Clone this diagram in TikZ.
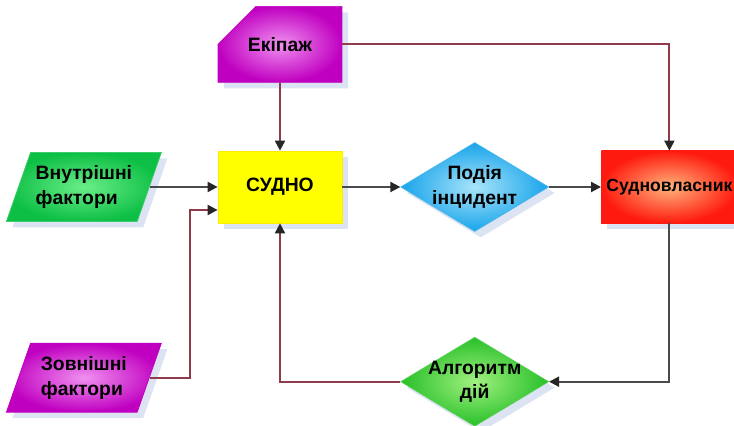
\documentclass[tikz,border=0pt]{standalone}
\usepackage{fontspec}
\setmainfont{Liberation Sans}
\usetikzlibrary{arrows.meta, positioning, shapes.geometric, shapes.misc, shadows}
\definecolor{lineRed}{HTML}{8E3B4A}
\definecolor{lineGray}{HTML}{4A4A4A}
\definecolor{shipYellow}{HTML}{FFFF00}
\definecolor{crewMag}{HTML}{C000C0}
\definecolor{crewLight}{HTML}{F090F0}
\definecolor{factGreen}{HTML}{0DBF45}
\definecolor{factLight}{HTML}{6AEE88}
\definecolor{algGreen}{HTML}{28C028}
\definecolor{algLight}{HTML}{A0F080}
\definecolor{evBlue}{HTML}{18A4EA}
\definecolor{evLight}{HTML}{A8E4FA}
\definecolor{ownRed}{HTML}{FF1A0F}
\definecolor{ownLight}{HTML}{FFB47A}
\definecolor{shadowBlue}{HTML}{DCE3F2}
\tikzset{
  arrowM/.style={-{Triangle[length=2mm, width=2mm, color=black!85]}, lineRed, line width=1.1pt},
  arrowG/.style={-{Triangle[length=2mm, width=2mm, color=black!85]}, lineGray, line width=1.1pt},
  base/.style={font=\bfseries\fontsize{11}{14}\selectfont, align=center, text=black,
               drop shadow={shadow xshift=0.12cm, shadow yshift=-0.12cm, fill=shadowBlue, opacity=1}},
  boxYellow/.style={base, rectangle, fill=shipYellow, draw=shipYellow!85!orange,
                    minimum width=2.48cm, minimum height=1.44cm},
  boxRed/.style={base, rectangle, inner color=ownLight, outer color=ownRed, draw=ownRed,
                 font=\bfseries\fontsize{10}{12}\selectfont, inner sep=1pt,
                 minimum width=2.72cm, minimum height=1.44cm},
  boxCrew/.style={base, chamfered rectangle, chamfered rectangle corners=north west,
                  chamfered rectangle sep=0.5cm, inner color=crewLight, outer color=crewMag,
                  draw=crewMag, minimum width=2.48cm, minimum height=1.46cm},
  factor/.style={base, trapezium, trapezium left angle=66, trapezium right angle=114,
                 trapezium stretches body, align=left, inner xsep=0pt,
                 minimum width=3.1cm, minimum height=1.38cm},
  decide/.style={base, diamond, aspect=1.65, inner sep=-3pt, minimum width=2.96cm, minimum height=1.78cm},
}
\begin{document}
\begin{tikzpicture}[node distance=1cm]
  \useasboundingbox (0,0) rectangle (14.68,8.52);
  \node[boxYellow] (sudno) at (5.6,4.78) {СУДНО};
  \node[boxCrew, above=1.36cm of sudno] (crew) {Екіпаж};
  \node[factor, inner color=factLight, outer color=factGreen, draw=factGreen!80!white,
        left=1.36cm of sudno] (inner) {Внутрішні\\фактори};
  \node[factor, inner color=crewLight, outer color=crewMag, draw=crewMag,
        below=2.42cm of inner] (outer) {Зовнішні\\фактори};
  \node[decide, inner color=evLight, outer color=evBlue, draw=evBlue!80!white,
        right=1.16cm of sudno] (event) {Подія\\інцидент};
  \node[boxRed, right=1.04cm of event] (owner) {Судновласник};
  \node[decide, inner color=algLight, outer color=algGreen, draw=algGreen!80!white,
        below=2.1cm of event] (algo) {Алгоритм\\дій};
  \draw[arrowM] (crew) -- (sudno);
  \draw[arrowM] (crew.east) -| (owner.north);
  \draw[arrowG] (inner.east) -- (sudno.west);
  \draw[arrowM] (outer.east) -- ++(0.8cm,0) |- ([yshift=-0.46cm]sudno.west);
  \draw[arrowG] (sudno) -- (event);
  \draw[arrowG] (event) -- (owner);
  \draw[arrowG] (owner.south) |- (algo.east);
  \draw[arrowM] (algo.west) -| (sudno.south);
\end{tikzpicture}
\end{document}
